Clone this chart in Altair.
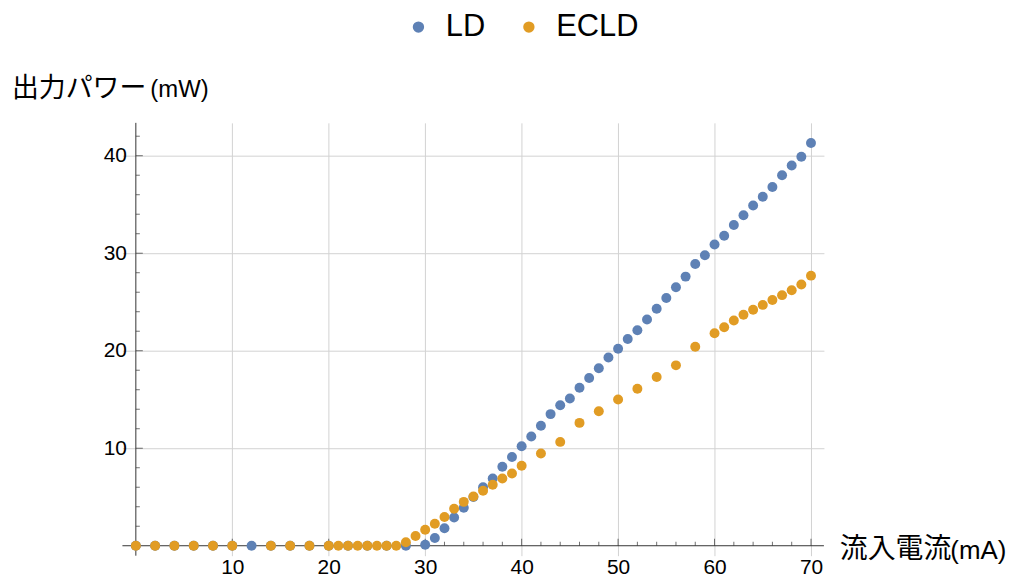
import altair as alt
import pandas as pd

# ---------------- data ----------------
ld_x = [0, 2, 4, 6, 8, 10, 12, 14, 16, 18, 20, 22, 24, 26, 28,
        30, 31, 32, 33, 34, 35, 36, 37, 38, 39, 40, 41, 42, 43, 44, 45,
        46, 47, 48, 49, 50, 51, 52, 53, 54, 55, 56, 57, 58, 59, 60,
        61, 62, 63, 64, 65, 66, 67, 68, 69, 70]
ld_y = [0, 0, 0, 0, 0, 0, 0, 0, 0, 0, 0, 0, 0, 0, 0,
        0.1, 0.8, 1.8, 2.9, 3.9, 5.0, 6.0, 6.9, 8.1, 9.1, 10.2, 11.2, 12.3, 13.5, 14.4, 15.1,
        16.2, 17.2, 18.2, 19.3, 20.2, 21.2, 22.1, 23.2, 24.3, 25.4, 26.5, 27.6, 28.9, 29.8, 30.9,
        31.8, 32.9, 33.9, 34.9, 35.8, 36.8, 38.0, 39.0, 39.9, 41.3]

ecld_x = [0, 2, 4, 6, 8, 10, 14, 16, 18, 20, 21, 22, 23, 24, 25, 26, 27,
          28, 29, 30, 31, 32, 33, 34, 35, 36, 37, 38, 39, 40,
          42, 44, 46, 48, 50, 52, 54, 56, 58, 60,
          61, 62, 63, 64, 65, 66, 67, 68, 69, 70]
ecld_y = [0, 0, 0, 0, 0, 0, 0, 0, 0, 0, 0, 0, 0, 0, 0, 0, 0,
          0.35, 1.0, 1.65, 2.25, 2.95, 3.8, 4.5, 5.05, 5.65, 6.25, 6.9, 7.4, 8.2,
          9.45, 10.65, 12.6, 13.8, 15.0, 16.1, 17.3, 18.5, 20.4, 21.8,
          22.4, 23.1, 23.7, 24.2, 24.7, 25.2, 25.7, 26.2, 26.8, 27.7]

series_names = ["LD", "ECLD"]
x_labels = [10, 20, 30, 40, 50, 60, 70]
y_labels = [10, 20, 30, 40]
x_minor = [v for v in range(2, 71, 2) if v % 10 != 0]
y_minor = [v for v in range(2, 43, 2) if v % 10 != 0]

x_title = "流入電流"
x_unit = "(mA)"
y_title = "出力パワー"
y_unit = "(mW)"

# ---------------- style ----------------
BLUE = "#5E81B5"
ORANGE = "#E19C24"
AXIS_COL = "#333333"
GRID_COL = "#d2d2d2"
LATIN = "Liberation Sans"
CJK = "Noto Sans CJK JP"

W, H = 705, 435
XDOM = [-1.39, 71.34]
YDOM = [-1.02, 43.37]

xs = alt.Scale(domain=XDOM, nice=False, zero=False)
ys = alt.Scale(domain=YDOM, nice=False, zero=False)

x_axis = alt.Axis(values=x_labels, title=None, domain=False, ticks=False, grid=True,
                  gridColor=GRID_COL, gridWidth=1, labelFont=LATIN, labelFontSize=21,
                  labelColor="black", labelPadding=1)
y_axis = alt.Axis(values=y_labels, title=None, domain=False, ticks=False, grid=True,
                  gridColor=GRID_COL, gridWidth=1, labelFont=LATIN, labelFontSize=21,
                  labelColor="black", labelPadding=-4)

df = pd.concat([
    pd.DataFrame({"x": ld_x, "y": ld_y, "series": "LD"}),
    pd.DataFrame({"x": ecld_x, "y": ecld_y, "series": "ECLD"}),
], ignore_index=True)

points = alt.Chart(df).mark_circle(size=100, opacity=1).encode(
    x=alt.X("x:Q", scale=xs, axis=x_axis),
    y=alt.Y("y:Q", scale=ys, axis=y_axis),
    color=alt.Color("series:N",
                    scale=alt.Scale(domain=series_names, range=[BLUE, ORANGE]),
                    legend=alt.Legend(orient="none", legendX=282, legendY=-112,
                                      direction="horizontal", title=None,
                                      labelFont=LATIN, labelFontSize=31, labelColor="black",
                                      symbolType="circle", symbolSize=130,
                                      symbolStrokeWidth=0, symbolOpacity=1,
                                      labelOffset=12, columnPadding=28)),
)

zero_df = pd.DataFrame({"v": [0]})
x_line = alt.Chart(zero_df).mark_rule(color=AXIS_COL, strokeWidth=1).encode(
    y=alt.Y("v:Q", scale=ys, axis=y_axis))
y_line = alt.Chart(zero_df).mark_rule(color=AXIS_COL, strokeWidth=1).encode(
    x=alt.X("v:Q", scale=xs, axis=x_axis))

def xticks(vals, size):
    return alt.Chart(pd.DataFrame({"v": vals})).mark_tick(
        orient="vertical", size=size, thickness=1, color=AXIS_COL, yOffset=-size / 2
    ).encode(x=alt.X("v:Q", scale=xs, axis=x_axis), y=alt.datum(0))

def yticks(vals, size):
    return alt.Chart(pd.DataFrame({"v": vals})).mark_tick(
        orient="horizontal", size=size, thickness=1, color=AXIS_COL, xOffset=size / 2
    ).encode(y=alt.Y("v:Q", scale=ys, axis=y_axis), x=alt.datum(0))

def label(text, x, y, font, size):
    return alt.Chart(pd.DataFrame({"t": [text]})).mark_text(
        align="left", baseline="middle", font=font, fontSize=size, color="black"
    ).encode(x=alt.value(x), y=alt.value(y), text="t:N")

chart = alt.layer(
    x_line, y_line,
    xticks(x_minor, 4), xticks(x_labels, 7),
    yticks(y_minor, 4), yticks(y_labels, 7),
    points,
    label(x_title, 721, 429, CJK, 28),
    label(x_unit, 832, 430, LATIN, 26),
    label(y_title, -111, -34, CJK, 27),
    label(y_unit, 28, -33, LATIN, 24),
).properties(
    width=W, height=H,
    autosize=alt.AutoSizeParams(type="none"),
    padding={"left": 115, "top": 114, "right": 184, "bottom": 22},
).configure_view(stroke=None)

chart.save("out.html", embed_options={"renderer": "svg", "actions": False})
